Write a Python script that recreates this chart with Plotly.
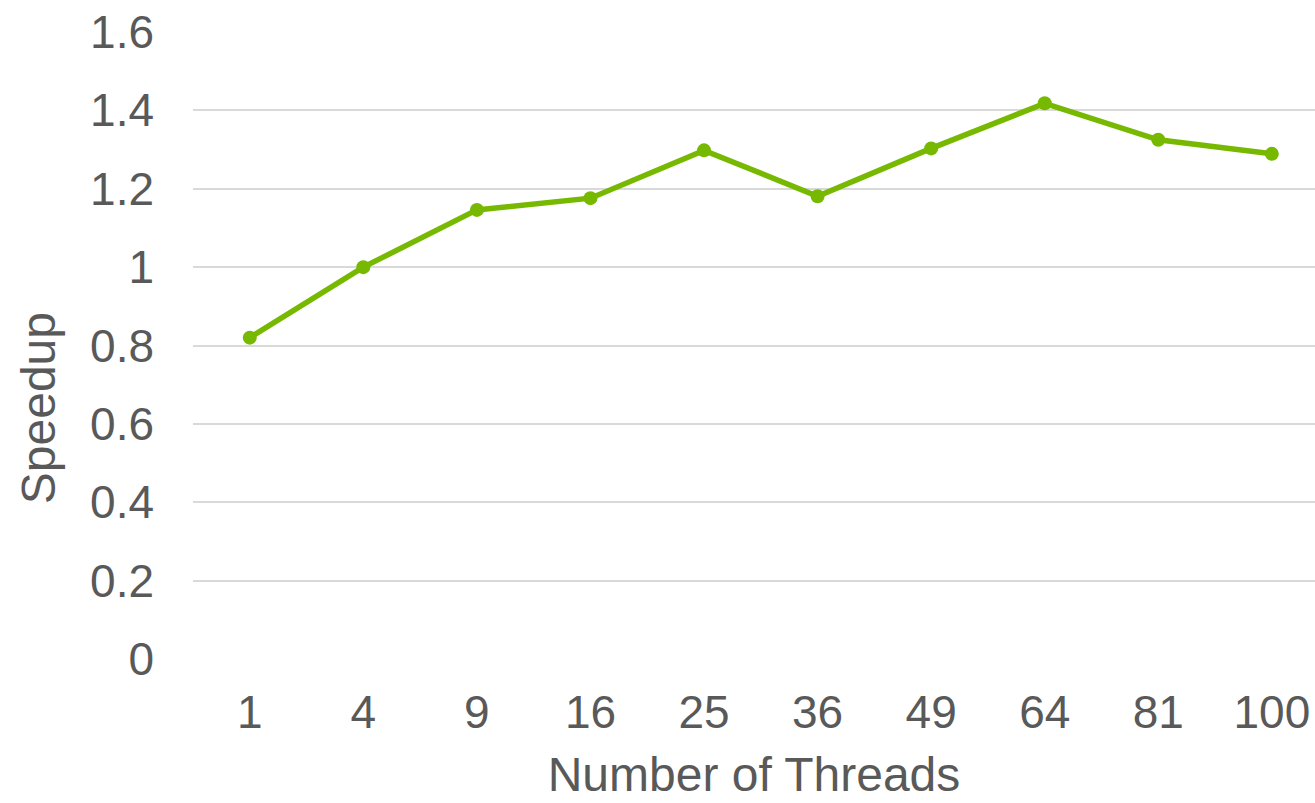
import plotly.graph_objects as go

threads = ["1", "4", "9", "16", "25", "36", "49", "64", "81", "100"]
speedup = [0.82, 1.0, 1.146, 1.176, 1.298, 1.181, 1.303, 1.418, 1.325, 1.289]

y_ticks = [0, 0.2, 0.4, 0.6, 0.8, 1.0, 1.2, 1.4, 1.6]
y_tick_text = ["0", "0.2", "0.4", "0.6", "0.8", "1", "1.2", "1.4", "1.6"]

green = "#76B900"
text_color = "#595959"
grid_color = "#D9D9D9"
font_family = "Liberation Sans, Arial, sans-serif"

fig = go.Figure(
    go.Scatter(
        x=threads,
        y=speedup,
        mode="lines+markers",
        line=dict(color=green, width=5.5),
        marker=dict(color=green, size=14),
        showlegend=False,
    )
)

fig.update_layout(
    width=1315,
    height=803,
    margin=dict(l=193, r=0, t=32, b=144),
    paper_bgcolor="white",
    plot_bgcolor="white",
    font=dict(family=font_family, color=text_color, size=46),
    annotations=[
        dict(
            text="Speedup",
            textangle=-90,
            xref="paper",
            yref="paper",
            x=-155 / 1122,
            y=0.40,
            xanchor="center",
            yanchor="middle",
            showarrow=False,
            font=dict(size=48, color=text_color),
        )
    ],
)

# the plot area is clipped on the right, so the last category sits near the edge
fig.update_xaxes(
    type="category",
    range=[-0.5, len(threads) - 0.62],
    showgrid=False,
    showline=False,
    zeroline=False,
    ticks="",
    ticklabelstandoff=22,
    tickfont=dict(size=46, color=text_color),
    title=dict(text="Number of Threads", font=dict(size=48, color=text_color), standoff=20),
)

fig.update_yaxes(
    range=[0, 1.6],
    tickvals=y_ticks,
    ticktext=y_tick_text,
    showgrid=True,
    gridcolor=grid_color,
    gridwidth=2,
    zeroline=False,
    showline=False,
    ticks="",
    ticklabelstandoff=38,
    tickfont=dict(size=46, color=text_color),
)

fig.write_html("out.html")
